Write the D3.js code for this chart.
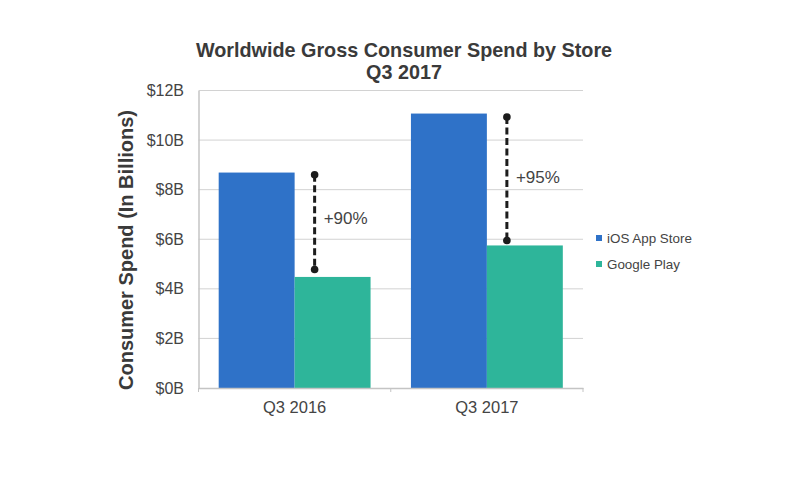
<!DOCTYPE html>
<html>
<head>
<meta charset="utf-8">
<script src="https://cdn.jsdelivr.net/npm/d3@7"></script>
<style>
  html, body { margin: 0; padding: 0; background: #fff; }
  svg { display: block; font-family: "Liberation Sans", Arial, sans-serif; }
</style>
</head>
<body>
<svg width="800" height="480"></svg>
<script>
const quarters = ["Q3 2016", "Q3 2017"];
const stores = ["iOS App Store", "Google Play"];
const iosSpend = [8.69, 11.07];
const playSpend = [4.48, 5.75];
const connectorTop = [8.6, 10.93];
const connectorBottom = [4.78, 5.95];
const growthLabels = ["+90%", "+95%"];
const growthLabelAt = [6.87, 8.5];
const yTicks = [0, 2, 4, 6, 8, 10, 12];

const svg = d3.select("svg");
const margin = { top: 90.5, right: 217, bottom: 92, left: 198.5 };
const width = +svg.attr("width") - margin.left - margin.right;
const height = +svg.attr("height") - margin.top - margin.bottom;
const chart = svg.append("g").attr("transform", `translate(${margin.left},${margin.top})`);

const textColor = "#444";
const gridColor = "#d2d2d2";
const colors = d3.scaleOrdinal().domain(stores).range(["#2f72c8", "#2eb59a"]);

const x0 = d3.scaleBand().domain(quarters).range([0, width]).paddingInner(0.21).paddingOuter(0.105);
const x1 = d3.scaleBand().domain(stores).range([0, x0.bandwidth()]);
const y = d3.scaleLinear().domain([0, 12]).range([height, 0]);

// gridlines go under the bars
chart.append("g").selectAll("line")
    .data(yTicks.filter(d => d > 0))
    .enter().append("line")
    .attr("x1", 0)
    .attr("x2", width)
    .attr("y1", d => y(d))
    .attr("y2", d => y(d))
    .attr("stroke", gridColor)
    .attr("stroke-width", 1);

const rows = quarters.map((q, i) => ({ q, i, values: [iosSpend[i], playSpend[i]] }));

const groups = chart.selectAll(".group")
    .data(rows)
    .enter().append("g")
    .attr("class", "group")
    .attr("transform", d => `translate(${x0(d.q)},0)`);

groups.selectAll("rect")
    .data(d => stores.map((s, j) => ({ s, v: d.values[j] })))
    .enter().append("rect")
    .attr("x", d => x1(d.s))
    .attr("y", d => y(d.v))
    .attr("width", x1.bandwidth())
    .attr("height", d => height - y(d.v))
    .attr("fill", d => colors(d.s));

// axes
const yAxis = chart.append("g")
    .call(d3.axisLeft(y).tickValues(yTicks).tickSize(0).tickPadding(14.5).tickFormat(d => `$${d}B`));
yAxis.select(".domain").attr("stroke", "#c4c4c4").attr("stroke-width", 1.5);
yAxis.selectAll("text").attr("font-size", 16).attr("fill", textColor).attr("font-family", "inherit");

const xAxis = chart.append("g").attr("transform", `translate(0,${height})`)
    .call(d3.axisBottom(x0).tickSize(0).tickPadding(13.5));
xAxis.select(".domain").attr("stroke", "#c4c4c4").attr("stroke-width", 1.5);
xAxis.selectAll("text").attr("font-size", 16.5).attr("fill", textColor).attr("font-family", "inherit");
xAxis.selectAll(".boundary")
    .data([0, width / 2, width])
    .enter().append("line")
    .attr("class", "boundary")
    .attr("x1", d => d)
    .attr("x2", d => d)
    .attr("y1", 0)
    .attr("y2", 4)
    .attr("stroke", "#c4c4c4");

// growth connectors
const connectorX = d => x0(d.q) + x0.bandwidth() / 2 + 20;

const connectors = chart.selectAll(".connector")
    .data(rows)
    .enter().append("g")
    .attr("class", "connector");

connectors.append("line")
    .attr("x1", connectorX)
    .attr("x2", connectorX)
    .attr("y1", d => y(connectorTop[d.i]))
    .attr("y2", d => y(connectorBottom[d.i]))
    .attr("stroke", "#1c1c1c")
    .attr("stroke-width", 3)
    .attr("stroke-dasharray", "7 3.5");

connectors.selectAll("circle")
    .data(d => [connectorTop[d.i], connectorBottom[d.i]].map(v => ({ q: d.q, v })))
    .enter().append("circle")
    .attr("cx", connectorX)
    .attr("cy", d => y(d.v))
    .attr("r", 3.8)
    .attr("fill", "#1c1c1c");

connectors.append("text")
    .attr("x", d => connectorX(d) + 9)
    .attr("y", d => y(growthLabelAt[d.i]))
    .attr("dy", "0.35em")
    .attr("font-size", 17)
    .attr("fill", textColor)
    .text(d => growthLabels[d.i]);

// titles
svg.append("text")
    .attr("x", 404)
    .attr("y", 57)
    .attr("text-anchor", "middle")
    .attr("font-size", 19.8)
    .attr("font-weight", "bold")
    .attr("fill", "#3a3a3a")
    .text("Worldwide Gross Consumer Spend by Store");
svg.append("text")
    .attr("x", 404)
    .attr("y", 79)
    .attr("text-anchor", "middle")
    .attr("font-size", 19.8)
    .attr("font-weight", "bold")
    .attr("fill", "#3a3a3a")
    .text("Q3 2017");

svg.append("text")
    .attr("transform", "translate(133,250) rotate(-90)")
    .attr("text-anchor", "middle")
    .attr("font-size", 20)
    .attr("font-weight", "bold")
    .attr("fill", "#3a3a3a")
    .text("Consumer Spend (In Billions)");

// legend
const legend = svg.selectAll(".legend")
    .data(stores)
    .enter().append("g")
    .attr("class", "legend")
    .attr("transform", (d, i) => `translate(596,${238 + i * 26})`);

legend.append("rect")
    .attr("x", 0)
    .attr("y", -3)
    .attr("width", 6)
    .attr("height", 6)
    .attr("fill", d => colors(d));

legend.append("text")
    .attr("x", 11)
    .attr("dy", "0.35em")
    .attr("font-size", 13.4)
    .attr("fill", textColor)
    .text(d => d);
</script>
</body>
</html>
